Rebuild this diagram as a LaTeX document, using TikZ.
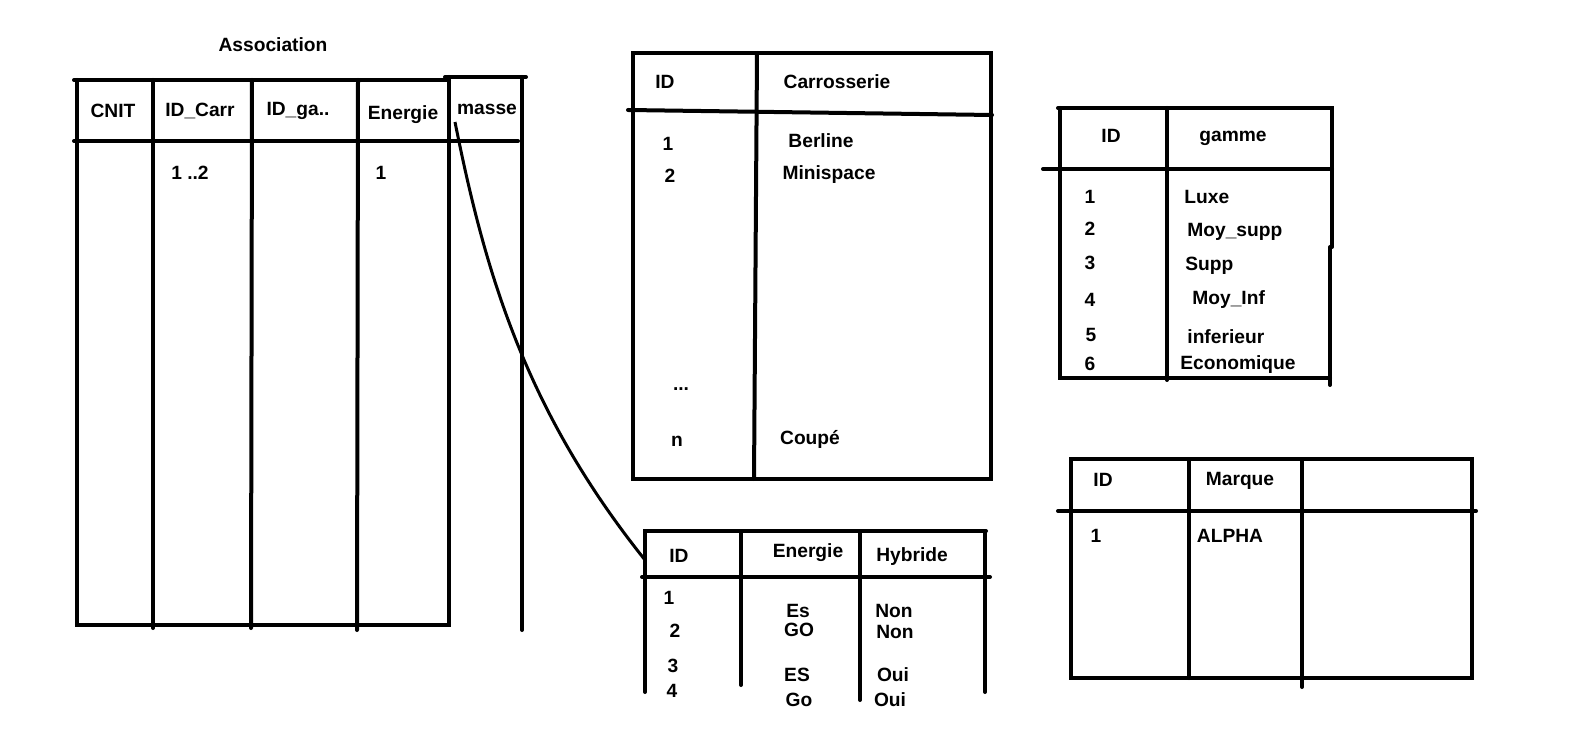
\documentclass[tikz,border=0pt]{standalone}
\usepackage{fontspec}
\setmainfont{Liberation Sans}
\usepackage{tikz}
\usetikzlibrary{positioning, calc}
\tikzset{rule/.style={line width=2pt, line cap=round},
         link/.style={line width=1.5pt},
         lbl/.style={font=\bfseries\fontsize{9.6}{11.5}\selectfont, inner sep=0pt, text height=6.9pt, text depth=0pt},
         lblw/.style={lbl, anchor=west}}

\begin{document}
\begin{tikzpicture}[x=0.5pt, y=-0.5pt]
    \useasboundingbox (0,0) rectangle (1573,737);
    % Association
    \node (assoc) [lbl] at (273,45) {Association};
    \draw[rule] (74,80) -- (449,80);
    \draw[rule] (445,77) -- (526,77);
    \draw[rule] (77,80) -- (77,625) -- (449,625) -- (449,77);
    \draw[rule] (153,80) -- (153,628);
    \draw[rule] (252,80) -- (251,628);
    \draw[rule] (358,80) -- (357,630);
    \draw[rule] (522,77) -- (522,630);
    \draw[rule] (74,141) -- (518,141);
    \node (acnit) [lbl] at (113,111) {CNIT};
    \node (acarr) [lbl] at (200,110) {ID\_Carr};
    \node (agam) [lbl] at (298,109) {ID\_ga..};
    \node (aener) [lbl] at (403,113) {Energie};
    \node (amasse) [lbl] at (487,108) {masse};
    \node (acarrv) [lbl] at (190,173) {1 ..2};
    \node (aenerv) [lbl] at (381,173) {1};
    % Carrosserie
    \draw[rule] (633,53) rectangle (991,479);
    \draw[rule] (628,110) -- (992,115);
    \draw[rule] (757,53) -- (754,479);
    \node (cid) [lbl] at (665,82) {ID};
    \node (ccar) [lbl] at (837,82) {Carrosserie};
    \node (cid1) [lbl] at (668,144) {1};
    \node (cid2) [lbl] at (670,176) {2};
    \node (cdots) [lbl] at (681,384) {...};
    \node (cidn) [lbl] at (677,440) {n};
    \node (cber) [lbl] at (821,141) {Berline};
    \node (cmini) [lbl] at (829,173) {Minispace};
    \node (ccoupe) [lbl] at (810,438) {Coupé};
    % gamme
    \draw[rule] (1058,108) -- (1332,108) -- (1332,247);
    \draw[rule] (1330,247) -- (1330,385);
    \draw[rule] (1060,108) -- (1060,378) -- (1330,378);
    \draw[rule] (1043,169) -- (1332,169);
    \draw[rule] (1167,108) -- (1167,380);
    \node (gid) [lbl] at (1111,136) {ID};
    \node (ggam) [lbl] at (1233,135) {gamme};
    \node (gid1) [lbl] at (1090,197) {1};
    \node (gid2) [lbl] at (1090,229) {2};
    \node (gid3) [lbl] at (1090,263) {3};
    \node (gid4) [lbl] at (1090,300) {4};
    \node (gid5) [lbl] at (1091,335) {5};
    \node (gid6) [lbl] at (1090,364) {6};
    \node (gluxe) [lblw] at (1184,197) {Luxe};
    \node (gmsup) [lblw] at (1187,230) {Moy\_supp};
    \node (gsupp) [lblw] at (1185,264) {Supp};
    \node (gminf) [lblw] at (1192,298) {Moy\_Inf};
    \node (ginf) [lblw] at (1187,337) {inferieur};
    \node (geco) [lblw] at (1180,363) {Economique};
    % Energie
    \draw[rule] (645,692) -- (645,531) -- (986,531);
    \draw[rule] (642,577) -- (990,577);
    \draw[rule] (741,531) -- (741,685);
    \draw[rule] (860,531) -- (860,700);
    \draw[rule] (985,531) -- (985,692);
    \node (eid) [lbl] at (679,556) {ID};
    \node (eener) [lbl] at (808,551) {Energie};
    \node (ehyb) [lbl] at (912,555) {Hybride};
    \node (eid1) [lbl] at (669,598) {1};
    \node (eid2) [lbl] at (675,631) {2};
    \node (eid3) [lbl] at (673,666) {3};
    \node (eid4) [lbl] at (672,691) {4};
    \node (ees) [lbl] at (798,611) {Es};
    \node (ego) [lbl] at (799,630) {GO};
    \node (eES) [lbl] at (797,675) {ES};
    \node (eGo) [lbl] at (799,700) {Go};
    \node (enon1) [lbl] at (894,611) {Non};
    \node (enon2) [lbl] at (895,632) {Non};
    \node (eoui1) [lbl] at (893,675) {Oui};
    \node (eoui2) [lbl] at (890,700) {Oui};
    % Marque
    \draw[rule] (1071,459) rectangle (1472,678);
    \draw[rule] (1058,511) -- (1476,511);
    \draw[rule] (1189,459) -- (1189,678);
    \draw[rule] (1302,459) -- (1302,687);
    \node (mid) [lbl] at (1103,480) {ID};
    \node (mmarq) [lbl] at (1240,479) {Marque};
    \node (mid1) [lbl] at (1096,536) {1};
    \node (malpha) [lbl] at (1230,536) {ALPHA};
    % masse -> Energie
    \coordinate (lnkA) at (455,122);
    \coordinate (lnkB) at (645,560);
    \draw[link] (lnkA) .. controls (485,272) and (525,410) .. (lnkB);
\end{tikzpicture}
\end{document}
